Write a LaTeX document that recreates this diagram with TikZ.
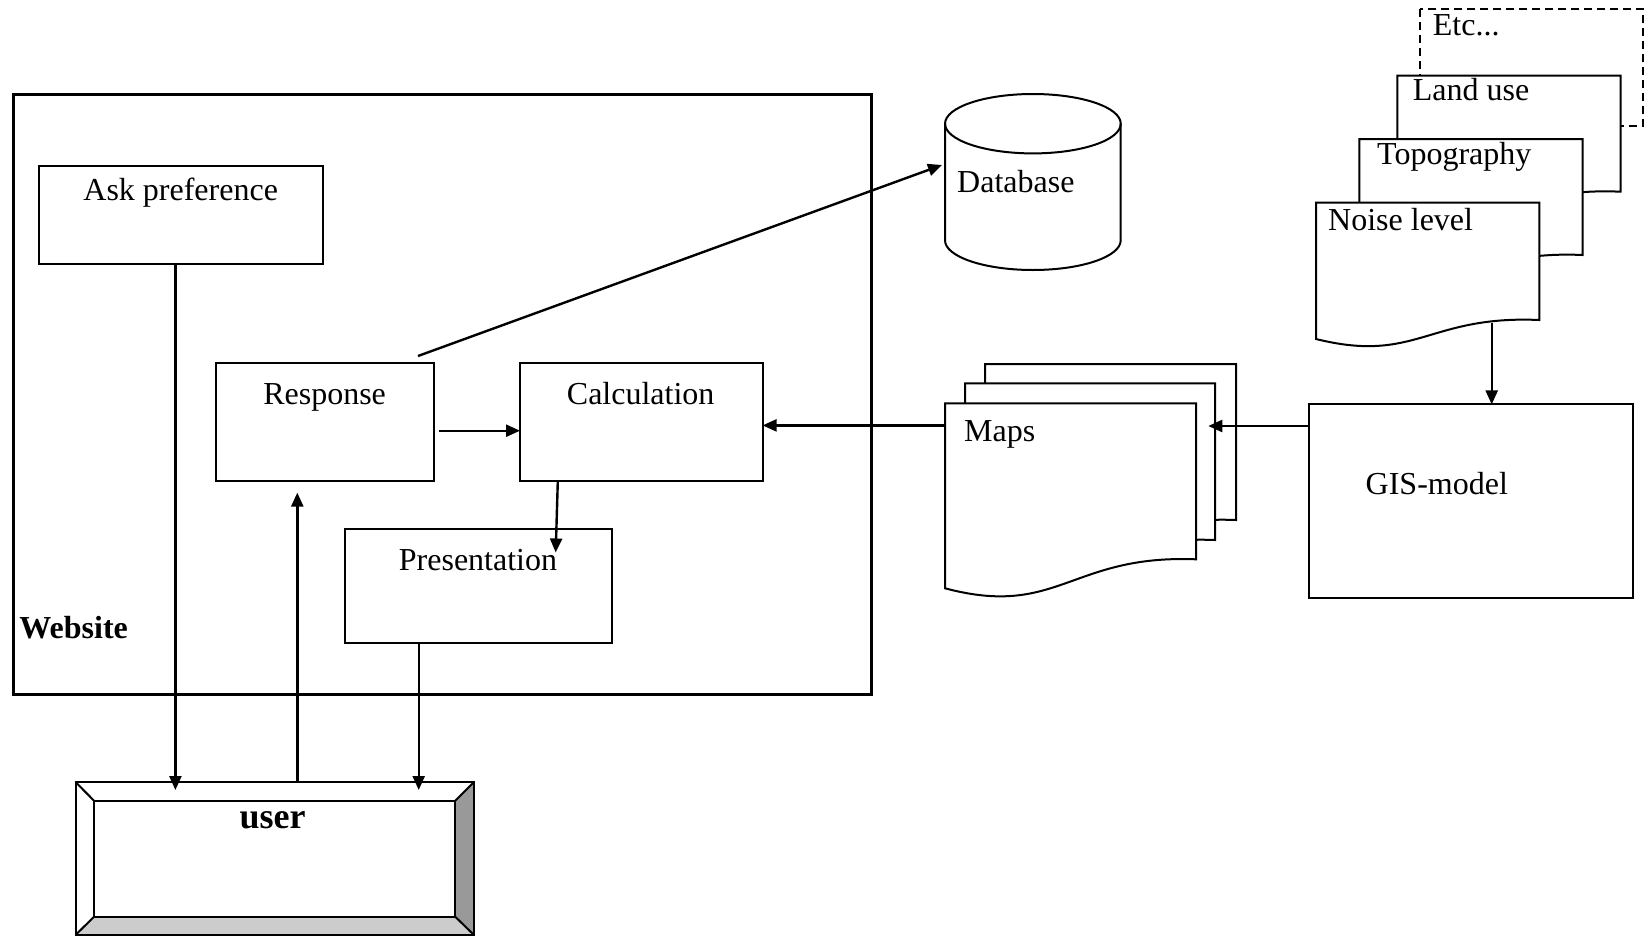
\documentclass[tikz,border=0pt]{standalone}
\usepackage{fontspec}
\setmainfont{Liberation Serif}
\usetikzlibrary{arrows.meta}
\begin{document}
\begin{tikzpicture}[x=1pt,y=-1pt,
  box/.style={draw,line width=2pt,inner sep=0pt,outer sep=0pt,anchor=north west},
  ghost/.style={inner sep=0pt,outer sep=0pt,anchor=north west},
  txt/.style={inner sep=0pt,font=\fontsize{32}{38}\selectfont},
  btxt/.style={inner sep=0pt,font=\fontsize{32}{38}\selectfont\bfseries},
  arr/.style={line width=2.4pt,-{Triangle[length=14pt,width=12pt]}},
  doc/.style={draw,fill=white,line width=2pt,line join=miter}]
\useasboundingbox (0,0) rectangle (1647,937);

% ---------- Website frame and inner boxes
\node[box,line width=3.2pt,minimum width=858.1pt,minimum height=599.8pt] (web) at (13.7,94.5) {};
\node[box,minimum width=283.6pt,minimum height=97.7pt] (ask) at (38.9,166) {};
\node[box,minimum width=217.4pt,minimum height=117.7pt] (resp) at (216.4,363.4) {};
\node[box,minimum width=242.6pt,minimum height=117.7pt] (calc) at (520,363.4) {};
\node[box,minimum width=267.9pt,minimum height=113.4pt] (pres) at (344.5,529.4) {};
\node[box,minimum width=324.6pt,minimum height=193.3pt] (gis) at (1308.8,404.4) {};

% ---------- user bevel box
\fill[white] (75.5,782) rectangle (474,935);
\fill[black!40] (474,782) -- (474,935) -- (455,916.5) -- (455,801) -- cycle;
\fill[black!20] (75.5,935) -- (474,935) -- (455,916.5) -- (94.3,916.5) -- cycle;
\node[box,minimum width=398.5pt,minimum height=153pt] (user) at (75.5,782) {};
\draw[line width=2pt] (94.3,801) rectangle (455,916.5);
\draw[line width=2pt] (75.5,782) -- (94.3,801) (474,782) -- (455,801)
  (75.5,935) -- (94.3,916.5) (474,935) -- (455,916.5);

% ---------- Database cylinder
\node[ghost,minimum width=175.7pt,minimum height=176pt] (db) at (945,94) {};
\draw[line width=2pt] (945,123.7) -- (945,240.3)
  .. controls (945,256.7) and (984.4,270) .. (1032.9,270)
  .. controls (1081.4,270) and (1120.7,256.7) .. (1120.7,240.3) -- (1120.7,123.7);
\draw[line width=2pt] (1032.9,123.7) ellipse [x radius=87.85pt, y radius=29.7pt];

% ---------- layer documents (top right)
\draw[line width=1.8pt,dash pattern=on 8pt off 5pt] (1420,9.3) rectangle (1643.3,125.7);
\draw[doc] (1397.3,210.7) -- (1397.3,75.7) -- (1620.7,75.7) -- (1620.7,191.7)
  .. controls (1509,186.7) and (1497.8,235.7) .. (1397.3,210.7) -- cycle;
\draw[doc] (1359.3,274) -- (1359.3,139) -- (1582.7,139) -- (1582.7,255)
  .. controls (1471,250) and (1459.8,299) .. (1359.3,274) -- cycle;
\draw[doc] (1316,339) -- (1316,202.7) -- (1539.3,202.7) -- (1539.3,320)
  .. controls (1427.7,315) and (1416.5,364) .. (1316,339) -- cycle;
\node[ghost,minimum width=223.3pt,minimum height=120pt] (noise) at (1316,202.7) {};

% ---------- maps documents
\draw[doc] (985,549) -- (985,364) -- (1236,364) -- (1236,520)
  .. controls (1110.5,515) and (1098,579) .. (985,549) -- cycle;
\draw[doc] (965,569) -- (965,383.3) -- (1215,383.3) -- (1215,540)
  .. controls (1090,535) and (1077.5,599) .. (965,569) -- cycle;
\draw[doc] (945,588.3) -- (945,403.3) -- (1196,403.3) -- (1196,559.3)
  .. controls (1070.5,554.3) and (1058,618.3) .. (945,588.3) -- cycle;
\node[ghost,minimum width=251pt,minimum height=185pt] (maps) at (945,403.3) {};

% ---------- texts
\node[txt] (askt) at (180.7,193) {Ask preference};
\node[txt] (respt) at (324.6,397.5) {Response};
\node[txt] (calct) at (640.7,394) {Calculation};
\node[txt] (prest) at (478,560) {Presentation};
\node[btxt,anchor=west] (webt) at (19.3,628) {Website};
\node[inner sep=0pt,font=\fontsize{36}{42}\selectfont\bfseries] (usert) at (272.5,820) {user};
\node[txt,anchor=west] (dbt) at (957,182) {Database};
\node[txt,anchor=west] (mapst) at (964,434) {Maps};
\node[txt,anchor=west] (gist) at (1365.5,484) {GIS-model};
\node[txt,anchor=west] (noiset) at (1328,220) {Noise level};
\node[txt,anchor=west] (topot) at (1377,156.7) {Topography};
\node[txt,anchor=west] (landt) at (1412.7,90) {Land use};
\node[txt,anchor=west] (etct) at (1432.7,25) {Etc...};

% ---------- connectors
\coordinate (t1) at (175.4,790);
\draw[arr] (ask.south -| t1) -- (t1);
\coordinate (t2) at (297.3,492.6);
\draw[arr] (user.north -| t2) -- (t2);
\coordinate (t3) at (418.7,790);
\draw[arr] (pres.south -| t3) -- (t3);
\coordinate (s4) at (439,430.7);
\draw[arr] (s4) -- (s4 -| calc.west);
\coordinate (s5) at (418,356);
\coordinate (t5) at (942,165);
\draw[arr] (s5) -- (t5);
\coordinate (s6) at (557.8,481.1);
\coordinate (t6) at (555.7,552.5);
\draw[arr] (s6) -- (t6);
\coordinate (t7) at (762.6,425.4);
\draw[arr] (maps.west |- t7) -- (t7);
\coordinate (t8) at (1208.3,426);
\draw[arr] (gis.west |- t8) -- (t8);
\coordinate (s9) at (1491.7,323);
\draw[arr] (s9) -- (s9 |- gis.north);
\end{tikzpicture}
\end{document}
